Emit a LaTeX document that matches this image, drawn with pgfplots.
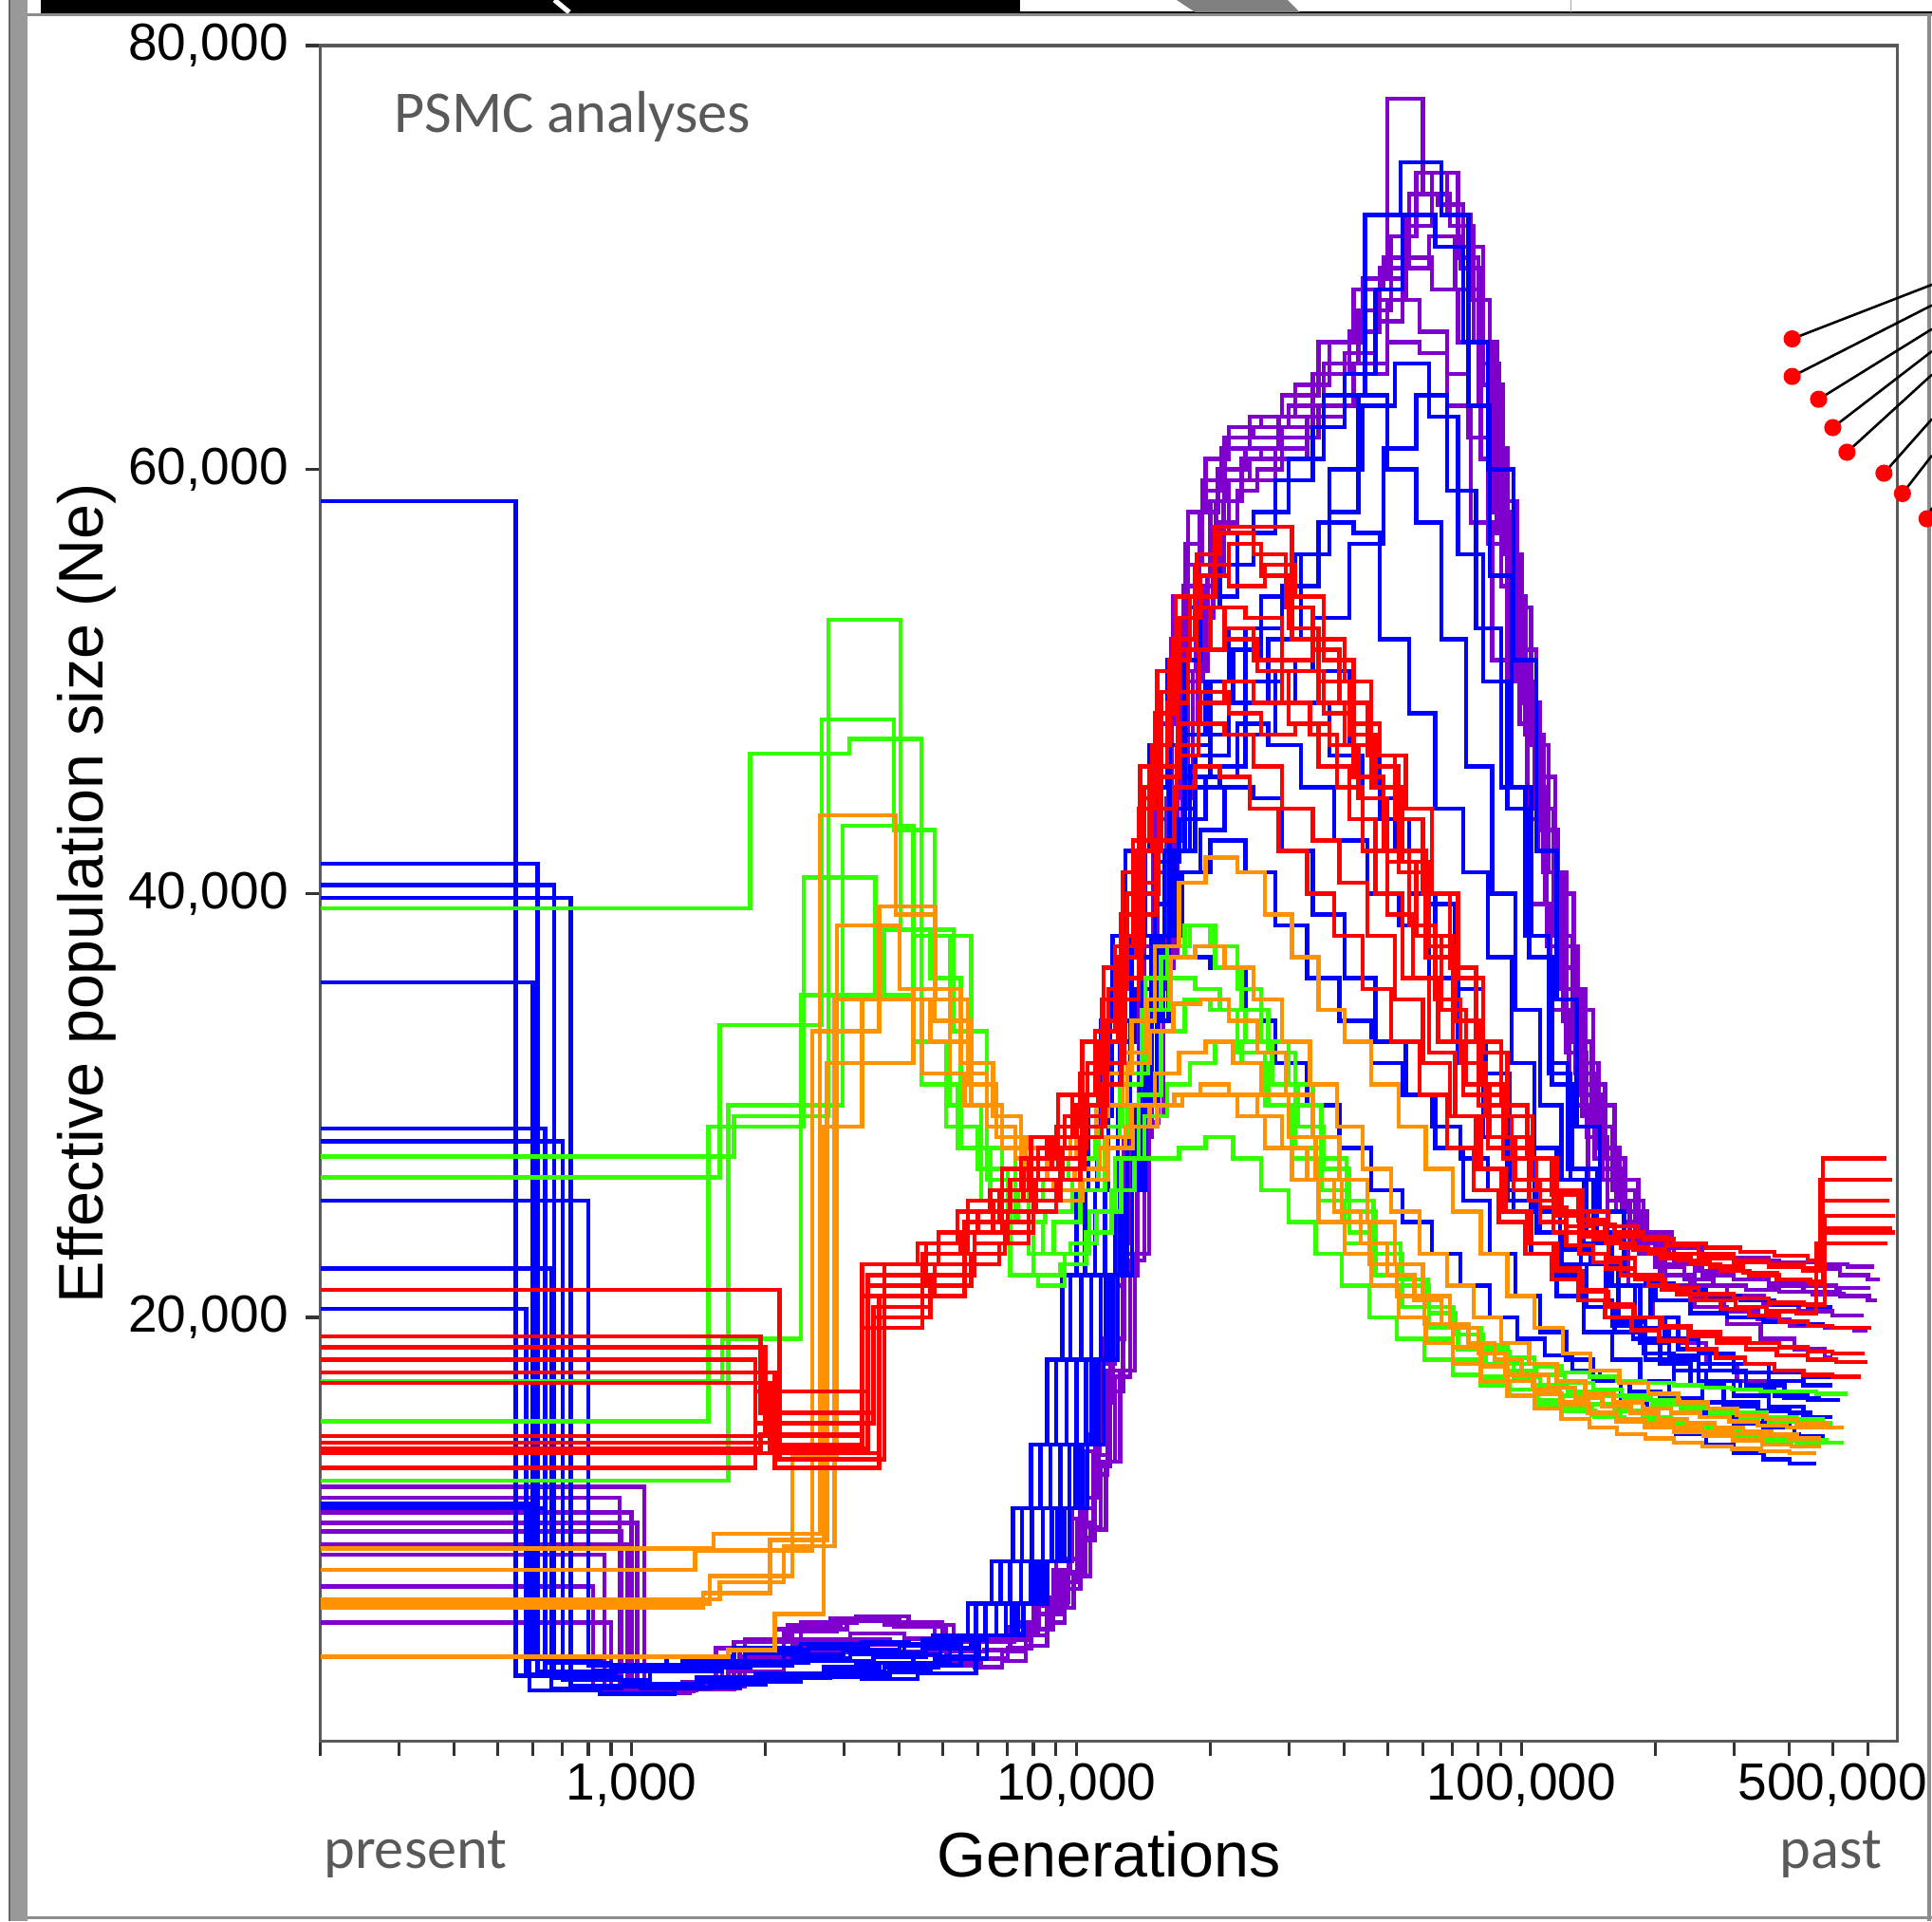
\documentclass[border=0pt]{standalone}
\usepackage{pgfplots}
\pgfplotsset{compat=1.18}
\usepackage{fontspec}
\setmainfont{Liberation Sans}
\newfontfamily\calib{Carlito}
\definecolor{cblue}{RGB}{0,0,255}
\definecolor{cpurple}{RGB}{127,0,204}
\definecolor{cgreen}{RGB}{51,255,0}
\definecolor{corange}{RGB}{255,146,0}
\definecolor{cred}{RGB}{255,0,0}
\definecolor{textgray}{RGB}{89,89,89}
\begin{document}
\begin{tikzpicture}
\useasboundingbox (0,0) rectangle (392pt,389.75pt);
\begin{axis}[
  at={(65pt,36.5pt)}, anchor=south west, scale only axis, width=320pt, height=344pt,
  xmode=log, xmin=200, xmax=700000, ymin=0, ymax=80000,
  clip=false,
  axis line style={draw=black!65, line width=0.6pt},
  tick align=outside, xtick pos=left, ytick pos=left,
  xtick={1000,10000,100000,500000},
  xticklabels={{1,000},{10,000},{100,000},{500,000}},
  minor xtick={200,300,400,500,600,700,800,900,2000,3000,4000,5000,6000,7000,8000,9000,20000,30000,40000,50000,60000,70000,80000,90000,200000,300000,400000,600000},
  major tick length=3pt, minor tick length=3pt,
  every tick/.append style={black!80, line width=0.6pt},
  every minor tick/.append style={black!80, line width=0.6pt},
  ytick={20000,40000,60000,80000},
  yticklabels={{20,000},{40,000},{60,000},{80,000}},
  scaled ticks=false,
  ticklabel style={font=\fontsize{10.6}{12}\selectfont},
  xticklabel style={yshift=2pt},
  xlabel={Generations}, ylabel={Effective population size (Ne)},
  label style={font=\fontsize{12.8}{15}\selectfont},
  xlabel style={at={(axis description cs:0.5,-0.0799)}, anchor=base},
  ylabel style={at={(axis description cs:-0.148,0.5)}, anchor=center},
  every axis plot/.append style={const plot, no marks, line width=0.85pt},
]
% ---------------- purple ----------------
\addplot[cpurple] coordinates {(200,12000)(1070,2400)(1400,2600)(1800,4800)(2400,5600)(3200,5900)(4200,5500)(5300,4800)(6300,5000)(7200,5600)(8100,6800)(9000,8500)(9800,11000)(10600,14500)(11400,19000)(12300,25000)(13200,32000)(14200,40000)(15300,48000)(16500,54000)(17800,58000)(19500,60500)(22000,62000)(26000,62500)(31000,64000)(37000,66000)(44000,69000)(50000,77500)(60000,73000)(69000,71500)(78000,66000)(86000,58000)(94000,51000)(103000,45000)(113000,39500)(124000,34000)(137000,29500)(152000,26500)(170000,24500)(192000,23500)(220000,23000)(260000,22800)(310000,22700)(380000,22600)(460000,22500)(540000,22400)(620000,22400)};
\addplot[cpurple] coordinates {(200,10800)(1000,2300)(1350,2450)(1700,3600)(2300,4300)(3000,4550)(4000,4250)(5100,3700)(6100,3900)(7000,4400)(7900,5300)(8800,6600)(9600,8600)(10400,11500)(11200,16000)(12100,22000)(13000,29000)(14000,37000)(15100,45000)(16300,52000)(17600,56500)(19200,59500)(21500,61500)(25000,62000)(30000,63000)(36000,65000)(43000,67500)(51000,71000)(58000,74000)(68000,72000)(77000,68000)(85000,61000)(93000,54000)(102000,47500)(112000,41000)(123000,35500)(136000,30500)(151000,27000)(168000,25000)(190000,24000)(218000,23300)(255000,23000)(300000,22800)(360000,22600)(430000,22300)(520000,22000)(600000,21800)(640000,21800)};
\addplot[cpurple] coordinates {(200,9900)(950,2300)(1300,2500)(1650,4300)(2200,5200)(2900,5800)(3900,5600)(5000,4700)(6350,4800)(7300,5400)(8250,6400)(9200,8000)(10050,10300)(10900,13500)(11750,17500)(12700,23000)(13650,29500)(14750,37000)(15900,44500)(17150,50500)(18550,55000)(20000,58500)(21500,61500)(24500,62500)(29000,63500)(35000,66000)(42000,68500)(49000,70000)(56000,73000)(65000,72500)(74000,70500)(82000,64000)(91000,56000)(100000,49000)(110000,43000)(121000,37500)(134000,32000)(149000,28000)(166000,25500)(188000,24000)(215000,23000)(250000,22200)(300000,21800)(360000,21500)(430000,21200)(520000,21000)(600000,20800)(630000,20800)};
\addplot[cpurple] coordinates {(200,8800)(870,2400)(1200,2500)(1600,3700)(2150,4400)(2850,4800)(3800,4550)(4900,4000)(5900,3900)(6800,4250)(7700,5000)(8600,6200)(9400,8000)(10200,11000)(11000,15500)(11900,21500)(12800,28500)(13800,36000)(14900,43500)(16100,49500)(17400,54500)(18900,58000)(20800,60000)(24000,61000)(28500,62000)(34000,64500)(41000,66500)(48000,69000)(55000,72000)(64000,71000)(73000,69500)(81000,65000)(89000,58500)(98000,51500)(108000,45500)(119000,40000)(131000,34500)(145000,30000)(162000,26500)(183000,24000)(210000,22500)(245000,21500)(290000,21000)(350000,20600)(420000,20300)(500000,20100)(580000,20000)};
\addplot[cpurple] coordinates {(200,7300)(820,2500)(1150,2700)(1550,4400)(2100,5300)(2800,5800)(3700,5500)(4800,4800)(6250,4700)(7250,5100)(8200,6000)(9200,7500)(10050,9600)(10900,12600)(11750,16500)(12750,22000)(13700,28500)(14800,35500)(16000,42500)(17300,48000)(18700,53000)(20300,57000)(22000,59500)(24500,60500)(28000,61000)(33000,62500)(40000,64500)(47000,67000)(54000,69500)(62000,71000)(71000,68500)(80000,63000)(88000,57000)(97000,50000)(107000,44000)(118000,38000)(130000,33000)(144000,29000)(160000,26000)(180000,23500)(205000,22000)(240000,21000)(285000,20300)(340000,19900)(400000,19600)(480000,19500)(560000,19400)(600000,19400)};
\addplot[cpurple] coordinates {(200,5600)(900,2300)(1250,2450)(1650,3300)(2200,3900)(2900,4200)(3800,4050)(4900,3600)(5900,3500)(6800,3800)(7700,4500)(8600,5600)(9400,7200)(10200,9500)(11000,13000)(11900,19000)(12800,26000)(13800,34000)(14900,41000)(16100,47000)(17400,52000)(18900,56000)(20600,58500)(23500,59500)(28000,60500)(33000,62500)(40000,65500)(47000,68000)(55000,70000)(63000,68500)(72000,66000)(81000,60500)(90000,54500)(99000,48000)(109000,42000)(120000,36500)(132000,31500)(146000,27500)(163000,25000)(184000,23000)(210000,21500)(245000,20500)(290000,19700)(345000,19000)(410000,18500)(480000,18100)(500000,18100)};
\addplot[cpurple] coordinates {(200,11500)(940,2600)(1300,2800)(1700,4700)(2250,5500)(2950,5800)(3900,5400)(5000,4900)(6600,4800)(7600,5300)(8600,6300)(9550,7900)(10450,10100)(11350,13200)(12200,17200)(13200,22700)(14200,29200)(15300,36500)(16500,44000)(17800,50000)(19250,54500)(20900,57500)(23000,59000)(25500,60000)(29000,61500)(35000,63000)(42000,65000)(50000,68000)(59000,66500)(68000,63000)(77000,57500)(86000,51000)(95000,45000)(105000,39500)(116000,34500)(128000,30000)(141000,26500)(156000,23500)(174000,21500)(197000,20000)(225000,18800)(260000,17800)(305000,17000)(360000,16500)(420000,16200)(455000,16200)};
\addplot[cpurple] coordinates {(200,9300)(980,2400)(1350,2500)(1750,4000)(2350,4800)(3100,5100)(4100,4850)(5200,4250)(6200,4300)(7100,5400)(8000,6500)(8900,8100)(9700,10500)(10500,13700)(11300,17800)(12200,23500)(13100,30000)(14100,37500)(15200,45000)(16400,51000)(17700,55500)(19200,59000)(21200,61000)(24500,61500)(29000,62000)(35000,63000)(42000,64500)(50000,66000)(59000,65500)(68000,64500)(76000,61500)(84000,56500)(93000,50000)(103000,43500)(114000,37500)(126000,32500)(140000,28500)(156000,25500)(175000,23500)(200000,22400)(232000,21800)(270000,21500)(320000,21300)(380000,21200)(450000,21100)(530000,21000)(610000,21000)};
\addplot[cpurple] coordinates {(200,10300)(1030,2350)(1380,2550)(1750,4400)(2300,5300)(3050,5700)(4000,5400)(5100,4700)(6850,4800)(7850,5300)(8850,6300)(9850,7800)(10750,10000)(11650,13200)(12550,17500)(13550,23000)(14550,29500)(15700,37000)(16900,44500)(18250,50500)(19700,55000)(21400,58500)(23500,60500)(26000,61000)(28500,62500)(34000,64500)(41000,66500)(48000,69500)(56000,71500)(63000,74000)(72000,70000)(80000,66000)(88000,60000)(96000,53500)(105000,47000)(115000,41000)(126000,35500)(139000,31000)(154000,27500)(171000,25000)(192000,23500)(220000,22500)(255000,22000)(300000,21800)(360000,21600)(430000,21500)(510000,21400)(600000,21300)};
% ---------------- blue ----------------
\addplot[cblue] coordinates {(200,58500)(550,3100)(800,2900)(1100,3300)(1600,3600)(2300,3800)(3200,3700)(4300,4100)(4950,5000)(5950,6500)(6750,8500)(7550,11000)(8300,14000)(9000,18000)(9700,22000)(10450,26000)(11150,30000)(11900,34000)(12600,38000)(13500,42000)(14600,47000)(16000,51000)(18000,53500)(21000,55500)(25000,58000)(30000,60500)(36000,63500)(44500,72000)(53500,74500)(66000,72000)(76000,63000)(85000,55000)(95000,45000)(105000,38000)(115000,32000)(127000,27000)(140000,24000)(160000,21500)(185000,19500)(215000,18000)(250000,17000)(300000,16300)(360000,15800)(430000,15300)(500000,15300)};
\addplot[cblue] coordinates {(200,41400)(615,3300)(900,3500)(1300,3800)(1800,4300)(2500,4400)(3400,4200)(4500,4600)(5500,5000)(6600,6500)(7500,8500)(8400,11000)(9200,14000)(10000,18000)(10800,22000)(11600,26000)(12400,30000)(13200,34000)(14000,38000)(15000,42000)(16200,47000)(17500,51000)(19000,54000)(23000,57000)(28000,59500)(34000,62000)(40000,64500)(47000,68500)(54000,72000)(64000,70500)(74000,66000)(84000,60000)(96000,51000)(108000,42000)(120000,35000)(133000,29000)(150000,25000)(170000,22000)(195000,20000)(225000,18500)(265000,17500)(320000,16800)(390000,16200)(470000,16200)};
\addplot[cblue] coordinates {(200,40400)(670,3000)(950,2700)(1400,3000)(1900,3200)(2700,3500)(3600,3700)(4800,4000)(6050,5000)(7250,6500)(8250,8500)(9250,11000)(10100,14000)(11000,18000)(11900,22000)(12750,26000)(13650,30000)(14500,34000)(15400,38000)(16500,42000)(18000,46000)(20000,49000)(22500,51500)(26000,54000)(31000,56000)(37000,60000)(44000,63000)(52000,65000)(62000,62500)(72000,56000)(82000,50000)(93000,44000)(104000,37000)(117000,31000)(130000,27000)(148000,24000)(170000,22000)(200000,20800)(240000,20200)(290000,20000)(350000,19800)(420000,19700)(480000,19700)};
\addplot[cblue] coordinates {(200,39800)(730,2600)(1050,2500)(1500,2700)(2000,3000)(2800,3100)(3800,3300)(4700,3700)(5200,5000)(6250,6500)(7100,8500)(7950,11000)(8750,14000)(9500,18000)(10250,22000)(11000,26000)(11800,30000)(12550,34000)(13300,38000)(14250,42000)(15500,44000)(18500,46500)(22000,49000)(27000,52000)(32000,56000)(37000,58000)(43000,63500)(50000,60000)(58000,57500)(66000,52000)(75000,46000)(86000,40000)(97000,34500)(110000,30000)(123000,26500)(138000,23500)(157000,21500)(180000,20000)(210000,19000)(250000,18300)(300000,17800)(360000,17400)(430000,17200)(520000,17200)};
\addplot[cblue] coordinates {(200,35800)(600,3900)(850,3600)(1200,4000)(1700,4400)(2400,4600)(3300,4700)(4200,4500)(4750,5000)(5700,6500)(6450,8500)(7200,11000)(7900,14000)(8600,18000)(9300,22000)(10000,26000)(10650,30000)(11350,34000)(12050,38000)(12900,42000)(14000,45000)(16000,47000)(20000,50000)(24000,52500)(29000,54500)(35000,57500)(42000,57000)(48000,52000)(56000,48500)(64000,44000)(74000,41000)(84000,37000)(95000,32000)(107000,28000)(120000,25000)(136000,22500)(155000,20500)(178000,19000)(205000,17800)(240000,16800)(285000,16000)(340000,15300)(400000,14800)(460000,14800)};
\addplot[cblue] coordinates {(200,28900)(640,3100)(920,3300)(1350,3500)(1850,3700)(2500,3800)(3500,4000)(4600,4400)(5800,5000)(6950,6500)(7900,8500)(8800,11000)(9650,14000)(10500,18000)(11350,22000)(12200,26000)(13000,30000)(13850,34000)(14700,38000)(15750,42000)(17500,45500)(20000,47500)(24000,50000)(29000,52000)(35000,50500)(41000,47000)(48000,43500)(56000,40000)(64000,36000)(72000,32000)(82000,28500)(93000,25500)(105000,23000)(120000,21000)(138000,19300)(160000,18000)(185000,17000)(215000,16200)(255000,15500)(300000,15000)(360000,14500)(420000,14200)(470000,14200)};
\addplot[cblue] coordinates {(200,28300)(700,2900)(1000,2700)(1450,3000)(2000,3200)(2700,3300)(3700,3500)(4900,3900)(6300,5000)(7600,6500)(8600,8500)(9650,11000)(10600,14000)(11500,18000)(12400,22000)(13350,26000)(14250,30000)(15200,34000)(16100,38000)(17250,41000)(19000,43000)(21500,45000)(25000,44500)(29000,42000)(34000,39000)(40000,36000)(47000,33000)(55000,30500)(64000,28000)(74000,25500)(85000,23000)(97000,21000)(110000,19300)(126000,18000)(145000,17000)(167000,16000)(192000,15200)(222000,14500)(260000,14000)(300000,13600)(350000,13300)(400000,13100)(460000,13100)};
\addplot[cblue] coordinates {(200,25500)(800,3600)(1150,3400)(1600,3700)(2200,4100)(3000,4300)(4000,4500)(4950,5000)(5950,6500)(6750,8500)(7550,11000)(8300,14000)(9000,18000)(9700,22000)(10450,26000)(11150,29500)(12000,33000)(13500,35500)(15500,37000)(20000,36500)(24000,34000)(28000,32000)(33000,30000)(39000,28000)(46000,26000)(54000,24500)(63000,23000)(73000,21500)(85000,20000)(98000,19000)(113000,18200)(130000,17500)(150000,17000)(175000,16500)(205000,16200)(240000,16000)(285000,15800)(340000,15600)(400000,15500)(450000,15500)};
\addplot[cblue] coordinates {(200,22300)(660,2500)(950,2650)(1400,2800)(1900,3000)(2600,3150)(3500,3250)(4600,3600)(5500,5000)(6600,6500)(7500,8500)(8400,11000)(9200,14000)(10000,18000)(10800,22000)(11600,26000)(12400,30000)(13200,34000)(14000,38000)(15000,41500)(17000,43500)(19500,45500)(23000,48000)(27000,47000)(32000,45000)(38000,42500)(45000,40000)(53000,38500)(62000,36000)(72000,33000)(83000,29500)(95000,26500)(108000,24000)(123000,22000)(140000,20500)(162000,19300)(188000,18300)(220000,17500)(260000,17000)(310000,16600)(370000,16300)(440000,16100)(520000,16100)};
\addplot[cblue] coordinates {(200,20400)(580,3150)(820,3350)(1200,3600)(1650,3800)(2300,3900)(3100,4100)(4100,4500)(5200,5000)(6250,6500)(7100,8500)(7950,11000)(8750,14000)(9500,18000)(10250,22000)(11000,26000)(11800,30000)(12550,34000)(13300,37000)(15000,39500)(17000,41000)(20000,42500)(24000,41000)(28000,38500)(33000,36000)(39000,34000)(46000,32000)(54000,30500)(63000,29000)(73000,27500)(84000,26000)(96000,25000)(110000,24000)(125000,23200)(143000,22500)(165000,22000)(190000,21600)(220000,21300)(260000,21000)(310000,20800)(370000,20600)(440000,20500)(500000,20500)};
\addplot[cblue] coordinates {(200,11200)(590,2400)(850,2250)(1250,2550)(1750,2800)(2400,3050)(3300,2950)(4400,3200)(5950,5000)(7150,6500)(8100,8500)(9050,11000)(9950,14000)(10800,18000)(11650,22000)(12550,26000)(13400,30000)(14250,34000)(15100,38000)(16200,42000)(17500,47500)(19500,50000)(22000,52500)(26000,51000)(31000,49000)(37000,46500)(44000,44500)(52000,42000)(61000,39500)(71000,35500)(82000,31500)(94000,28000)(107000,25000)(122000,22500)(140000,20800)(160000,19600)(185000,18800)(215000,18200)(250000,17800)(300000,17400)(360000,17000)(430000,16800)(500000,16800)};
\addplot[cblue] coordinates {(200,11000)(640,3700)(900,3450)(1300,3800)(1800,4150)(2500,4500)(3400,4600)(4500,4800)(6150,5000)(7400,6500)(8400,8500)(9400,11000)(10300,14000)(11200,18000)(12100,22000)(13000,26000)(13900,30000)(14800,34000)(15700,38000)(16800,42000)(18500,45000)(21000,46000)(24000,47500)(28000,50500)(34000,53000)(41000,56500)(49000,61000)(58000,63500)(68000,59000)(79000,52500)(90000,45000)(102000,38000)(115000,31500)(129000,26500)(145000,22500)(165000,19800)(190000,18000)(220000,16800)(255000,16000)(300000,15300)(350000,14800)(410000,14400)(480000,14400)};
% ---------------- green ----------------
\addplot[cgreen] coordinates {(200,39300)(1850,46600)(3090,47300)(4480,31000)(5400,28000)(6300,26500)(7300,25500)(8400,26500)(9600,27500)(11000,28500)(12500,31000)(14000,34500)(15500,37000)(17500,38500)(20000,37500)(23000,35500)(26000,33000)(30000,31000)(34000,28500)(39000,26500)(45000,24500)(52000,22500)(60000,21000)(69000,19500)(80000,18500)(92000,17500)(106000,16800)(122000,16300)(140000,15900)(162000,15600)(187000,15300)(217000,15000)(252000,14800)(295000,14600)(345000,14400)(400000,14200)(460000,14100)(530000,14100)};
\addplot[cgreen] coordinates {(200,27600)(1700,29500)(2770,52900)(4020,38300)(5300,33500)(6300,28000)(7300,24500)(8400,23000)(9700,23500)(11100,25000)(12600,27500)(14200,29500)(16000,31000)(18000,32000)(20500,33000)(23500,32000)(27000,30000)(31000,28000)(35500,26000)(41000,24000)(47000,22000)(54000,20500)(62000,19500)(72000,18500)(83000,17800)(96000,17200)(110000,16800)(127000,16500)(147000,16300)(170000,16100)(197000,15900)(228000,15700)(265000,15500)(310000,15300)(360000,15100)(420000,15000)(500000,15000)};
\addplot[cgreen] coordinates {(200,26600)(1580,33800)(2680,48200)(3890,43000)(4800,38000)(5800,30000)(6800,26000)(7800,23000)(8900,24500)(10200,26000)(11600,28500)(13000,31500)(14500,34500)(16200,36000)(18500,35500)(21000,34500)(24000,33000)(27500,31000)(31500,29000)(36000,27000)(41000,25000)(47000,23000)(54000,21500)(62000,20200)(71000,19200)(82000,18400)(94000,17800)(108000,17300)(125000,16900)(145000,16600)(168000,16300)(195000,16100)(226000,15900)(262000,15700)(305000,15500)(355000,15300)(415000,15200)(480000,15200)};
\addplot[cgreen] coordinates {(200,15100)(1490,29000)(2440,40750)(3530,35200)(4300,38000)(5200,30000)(6100,25500)(7100,22000)(8200,21500)(9400,23000)(10700,25000)(12200,27500)(13800,30500)(15500,33500)(17500,35000)(20000,34500)(23000,32500)(26500,30000)(30500,27500)(35000,25500)(40000,23500)(46000,21500)(53000,20000)(61000,19000)(70000,18000)(81000,17200)(93000,16600)(107000,16100)(124000,15700)(144000,15400)(167000,15100)(194000,14900)(225000,14700)(262000,14500)(305000,14300)(355000,14200)(415000,14100)(480000,14100)};
\addplot[cgreen] coordinates {(200,12300)(1650,30000)(2980,43200)(4300,33000)(5100,29000)(6000,27000)(7000,24000)(8000,22000)(9200,22500)(10500,24000)(12000,26000)(13500,27500)(15000,27500)(17000,28000)(19500,28500)(22500,27500)(26000,26000)(30000,24500)(34500,23000)(39500,21500)(45500,20000)(52500,19000)(60500,18000)(70000,17300)(81000,16800)(94000,16300)(109000,15900)(126000,15600)(146000,15300)(170000,15100)(198000,14900)(230000,14700)(268000,14600)(312000,14400)(365000,14300)(425000,14200)(490000,14200)};
\addplot[cgreen] coordinates {(200,17000)(1600,19000)(2400,35200)(3690,38300)(4700,36000)(5500,28000)(6400,26000)(7400,24500)(8500,25000)(9800,26500)(11200,29000)(12700,32000)(14300,36000)(16000,37500)(18000,38500)(20500,36500)(23500,34500)(27000,32500)(31000,30000)(35500,27500)(40500,25500)(46500,23500)(53500,21800)(61500,20500)(70500,19500)(81000,18700)(93000,18100)(107000,17700)(123000,17400)(142000,17200)(164000,17000)(190000,16900)(220000,16800)(255000,16700)(297000,16600)(345000,16500)(400000,16500)(460000,16400)(540000,16400)};
% ---------------- orange ----------------
\addplot[corange] coordinates {(200,9100)(1530,9800)(2650,43700)(3930,39000)(4800,34000)(5800,30000)(6800,28500)(7800,28000)(9000,28500)(10300,29500)(11800,31500)(13300,34000)(15000,37500)(17000,40500)(19500,41700)(23000,41000)(26500,39000)(30500,37000)(35000,34500)(40000,33000)(46000,31000)(53000,29000)(61000,27000)(70000,25000)(81000,23000)(93000,21000)(107000,19500)(124000,18300)(143000,17500)(166000,16900)(193000,16400)(225000,16000)(262000,15700)(305000,15400)(355000,15200)(415000,15000)(490000,15000)};
\addplot[corange] coordinates {(200,8100)(1390,9000)(2550,33500)(3600,39400)(4830,35000)(5700,31000)(6600,28500)(7600,27000)(8700,27500)(10000,28500)(11400,30000)(13000,32000)(14600,33500)(16500,34800)(19000,35000)(22000,34000)(25500,32500)(29500,30500)(34000,28500)(39000,26500)(45000,24500)(52000,22500)(60000,21000)(69000,19500)(80000,18300)(92000,17300)(106000,16600)(122000,16000)(141000,15500)(163000,15100)(189000,14800)(220000,14600)(256000,14400)(298000,14200)(348000,14000)(405000,13900)(470000,13900)};
\addplot[corange] coordinates {(200,6700)(1580,7500)(2200,9200)(2860,35000)(4500,31500)(5600,30000)(6600,28500)(7700,26500)(8900,26000)(10200,27000)(11700,28500)(13300,30000)(15000,31500)(17000,32500)(19500,33000)(22500,32000)(26000,30500)(30000,28500)(34500,26500)(39500,24500)(45500,22500)(52500,21000)(60500,19700)(70000,18600)(81000,17700)(93000,17000)(107000,16400)(123000,15900)(142000,15500)(164000,15200)(190000,15000)(220000,14800)(255000,14600)(297000,14500)(345000,14400)(400000,14300)(470000,14300)};
\addplot[corange] coordinates {(200,6300)(1450,7000)(2050,9500)(2750,32000)(4300,35500)(5500,32000)(6500,29500)(7500,27500)(8600,26500)(9900,27000)(11300,28000)(12900,29000)(14600,30000)(16600,30500)(19000,31000)(22000,30500)(25500,29500)(29000,28000)(33000,26500)(38000,25000)(43500,23500)(50000,22000)(57500,20800)(66000,19700)(76000,18800)(87000,18000)(100000,17300)(115000,16700)(132000,16200)(152000,15800)(176000,15500)(203000,15200)(235000,15000)(272000,14800)(315000,14600)(365000,14500)(420000,14500)};
\addplot[corange] coordinates {(200,4000)(1650,4300)(2100,6000)(2700,29000)(3300,35000)(4700,33000)(5800,30000)(6800,28000)(7900,26000)(9000,25500)(10300,26500)(11800,28000)(13400,29000)(15200,30000)(17300,30500)(20000,30500)(23000,29500)(26500,28000)(30500,26500)(35000,24500)(40000,23000)(46000,21500)(53000,20000)(61000,18800)(70000,17800)(81000,17000)(93000,16300)(107000,15700)(123000,15200)(142000,14800)(164000,14500)(190000,14300)(220000,14100)(255000,13900)(297000,13800)(345000,13700)(400000,13600)(460000,13600)};
\addplot[corange] coordinates {(200,6500)(1500,7800)(2300,13500)(2900,38500)(4000,35500)(5200,31500)(6300,29000)(7300,27500)(8400,27500)(9700,28500)(11100,30000)(12700,32500)(14400,35000)(16300,37000)(18500,37500)(21500,36500)(25000,35000)(29000,33000)(33500,31000)(38500,29000)(44000,27000)(51000,25000)(59000,23000)(68000,21500)(78000,20000)(90000,18800)(104000,17800)(120000,17000)(139000,16400)(161000,16000)(187000,15700)(217000,15500)(252000,15300)(293000,15100)(340000,14900)(395000,14800)(460000,14800)(530000,14800)};
% ---------------- red ----------------
\addplot[cred] coordinates {(200,21300)(2150,14000)(3300,21000)(4500,23000)(5500,24000)(6500,25500)(7600,27000)(8800,28500)(10000,30000)(11200,33000)(12400,37000)(13600,42000)(14800,47000)(16200,51000)(18000,54000)(20500,57300)(26000,57300)(30500,52000)(35000,49000)(40000,47000)(46000,45000)(53000,42000)(61000,38000)(70000,34000)(80000,30500)(91000,28000)(104000,26000)(118000,24800)(135000,24000)(155000,23500)(180000,23200)(210000,23000)(250000,22800)(300000,22600)(360000,22400)(430000,22300)(470000,26500)(680000,26500)};
\addplot[cred] coordinates {(200,19100)(1950,15500)(3400,21500)(4600,22500)(5600,24500)(6700,26000)(7800,27500)(9000,29000)(10200,31500)(11400,35000)(12600,39000)(13800,44000)(15000,48500)(16500,52000)(18500,55500)(22000,54500)(26500,55500)(31000,54000)(36000,51000)(42000,48000)(48000,46500)(55000,44000)(63000,40000)(72000,36000)(82000,32500)(93000,29500)(106000,27500)(120000,26000)(137000,25000)(157000,24300)(182000,23800)(212000,23400)(250000,23000)(300000,22700)(360000,22500)(430000,22200)(475000,27500)(660000,27500)};
\addplot[cred] coordinates {(200,18600)(2000,14400)(3300,22500)(4400,23500)(5400,25000)(6400,26000)(7500,27500)(8600,28500)(9800,30500)(11000,33500)(12200,37500)(13400,42500)(14600,46000)(16000,49000)(17800,51500)(20000,53500)(24000,53000)(29000,51000)(34000,52000)(40000,50000)(46000,46000)(53000,41000)(61000,37000)(70000,33000)(80000,30000)(91000,27500)(104000,25500)(118000,24000)(135000,23000)(155000,22300)(180000,21800)(210000,21400)(250000,21100)(300000,20900)(360000,20700)(430000,20600)(480000,24800)(690000,24800)};
\addplot[cred] coordinates {(200,18000)(1900,15000)(3500,20500)(4700,22000)(5800,23000)(6900,24500)(8000,26000)(9200,27500)(10400,29500)(11600,32000)(12800,36000)(14000,40000)(15300,44000)(16800,47000)(18800,49000)(21500,50000)(25000,49000)(30000,50500)(36000,48500)(42000,45500)(49000,42000)(56000,38500)(64000,35000)(73000,32000)(83000,29500)(95000,27500)(108000,26000)(123000,25000)(141000,24400)(162000,24000)(188000,23700)(220000,23500)(260000,23300)(310000,23100)(370000,22900)(440000,22700)(470000,25500)(670000,25500)};
\addplot[cred] coordinates {(200,17400)(2100,13600)(3600,21000)(4800,22500)(5900,24000)(7000,25000)(8100,26500)(9300,28000)(10500,30500)(11700,34000)(12900,38000)(14100,42000)(15500,45500)(17000,48000)(19000,49500)(22000,48500)(26000,47500)(31000,48000)(37000,47000)(43000,44500)(50000,41500)(58000,38000)(66000,34500)(75000,31000)(85000,28500)(97000,26500)(110000,25200)(126000,24300)(145000,23700)(167000,23300)(193000,23000)(225000,22700)(265000,22400)(315000,22100)(375000,21800)(445000,21600)(480000,24000)(690000,24000)};
\addplot[cred] coordinates {(200,16900)(2050,13800)(3400,21500)(4600,23000)(5700,24000)(6800,25500)(7900,27000)(9100,28500)(10300,30500)(11500,34000)(12700,39000)(13900,44500)(15200,48500)(16700,51500)(18600,53500)(21500,52000)(25500,50500)(30000,48000)(35000,46000)(41000,43500)(47000,40000)(54000,36000)(62000,32500)(71000,29500)(81000,27000)(92000,25000)(105000,23500)(120000,22200)(137000,21200)(157000,20500)(180000,20000)(207000,19600)(240000,19300)(280000,19000)(325000,18800)(380000,18600)(440000,18400)(500000,18300)(590000,18300)};
\addplot[cred] coordinates {(200,14400)(2000,15500)(3500,20000)(4700,21500)(5800,23000)(6900,24000)(8000,25500)(9200,27000)(10400,29000)(11600,32000)(12800,36000)(14000,40500)(15300,44000)(16800,46500)(18800,48000)(21500,47500)(25000,46000)(29000,44000)(34000,42500)(39000,40500)(45000,38000)(52000,35000)(60000,32000)(69000,29500)(79000,27000)(90000,25000)(103000,23500)(118000,22300)(135000,21300)(155000,20600)(178000,20000)(205000,19500)(237000,19100)(275000,18800)(320000,18500)(375000,18200)(440000,18000)(510000,17900)(600000,17900)};
\addplot[cred] coordinates {(200,14100)(2150,13300)(3700,22500)(4900,24000)(6000,25000)(7100,26500)(8200,28000)(9400,29500)(10600,32000)(11800,35500)(13000,40000)(14200,45000)(15500,49500)(17000,53000)(19000,55000)(22000,56500)(26000,55000)(30000,52500)(35000,50000)(41000,47500)(47000,45000)(54000,41500)(62000,37500)(71000,34000)(81000,31000)(92000,28500)(105000,26500)(120000,25000)(137000,23800)(157000,22800)(180000,22000)(207000,21300)(240000,20800)(280000,20400)(325000,20100)(380000,19800)(440000,19600)(500000,19500)(610000,19500)};
\addplot[cred] coordinates {(200,13800)(1950,14500)(3300,19500)(4500,21000)(5600,22500)(6700,23500)(7800,25000)(9000,26500)(10200,28500)(11400,31000)(12600,35000)(13800,39000)(15100,42500)(16600,45000)(18500,46000)(21000,45500)(24500,44000)(28500,42000)(33000,40000)(38000,38000)(44000,35500)(51000,33000)(59000,30500)(68000,28000)(78000,26000)(89000,24500)(102000,23000)(117000,21800)(134000,20800)(154000,20000)(177000,19400)(204000,18900)(236000,18500)(274000,18100)(318000,17800)(370000,17500)(430000,17300)(500000,17200)(580000,17200)};
\addplot[cred] coordinates {(200,13600)(2100,12900)(3600,21000)(4800,22000)(5900,23500)(7000,25000)(8100,26500)(9300,28000)(10500,30000)(11700,33000)(12900,37500)(14100,42000)(15400,46000)(16900,49500)(18900,51500)(21500,52500)(25000,51000)(29000,49000)(33500,47500)(38500,45000)(44000,42000)(50000,39000)(57000,36000)(65000,33000)(74000,30500)(84000,28000)(96000,26000)(110000,24500)(126000,23400)(145000,22600)(167000,22000)(193000,21500)(224000,21100)(260000,20800)(303000,20500)(355000,20300)(415000,20200)(460000,23500)(665000,23500)};
\addplot[cred] coordinates {(200,12900)(1900,16500)(3400,22000)(4600,23500)(5700,25500)(6800,27000)(7900,28500)(9100,30500)(10300,33000)(11500,36500)(12700,41000)(13900,46000)(15200,50500)(16700,54000)(18600,56000)(21000,57000)(25000,56000)(29500,53500)(34000,51500)(39000,49000)(45000,46500)(52000,43500)(60000,40000)(69000,36500)(79000,33000)(90000,30000)(103000,27500)(117000,25800)(134000,24600)(154000,23800)(178000,23200)(206000,22800)(240000,22500)(280000,22200)(325000,22000)(380000,21800)(440000,21700)(475000,24200)(680000,24200)};
% ---------------- text ----------------
\node[anchor=base west, inner sep=0pt, text=textgray, font=\calib\fontsize{12}{14}\selectfont] at (axis description cs:0.0461,0.9487) {PSMC analyses};
\node[anchor=base west, inner sep=0pt, text=textgray, font=\calib\fontsize{12}{14}\selectfont] at (axis description cs:0.0016,-0.0749) {present};
\node[anchor=base east, inner sep=0pt, text=textgray, font=\calib\fontsize{12}{14}\selectfont] at (axis description cs:0.9906,-0.0749) {past};
\end{axis}
% ---------------- frame decorations ----------------
\begin{scope}[x=0.25pt,y=-0.25pt,shift={(0pt,389.75pt)}]
  \fill[black!40] (8,0) rectangle (22,1559);
  \draw[black!60, line width=0.4pt] (8,0) -- (8,1559);
  \fill[black] (33,0) rectangle (828,11);
  \draw[white, line width=1pt] (450,0) -- (462,10);
  \draw[black, line width=0.5pt] (828,10) -- (1568,10);
  \fill[black!50] (955,0) -- (1045,0) -- (1055,10) -- (970,10) -- cycle;
  \draw[black!35, line width=0.3pt] (1275,0) -- (1275,10);
  \draw[black!45, line width=0.6pt] (22,12) -- (1568,12);
  \draw[black!45, line width=0.8pt] (1566,12) -- (1566,1559);
  \draw[black!45, line width=0.6pt] (22,1556) -- (1568,1556);
  \draw[black, line width=0.5pt] (1454.5,275) -- (1568,231);
  \draw[black, line width=0.5pt] (1454.5,305.5) -- (1568,247.7);
  \draw[black, line width=0.5pt] (1476,324) -- (1568,267);
  \draw[black, line width=0.5pt] (1487.5,347) -- (1568,285);
  \draw[black, line width=0.5pt] (1499,367) -- (1568,304);
  \draw[black, line width=0.5pt] (1529,384) -- (1568,340);
  \draw[black, line width=0.5pt] (1544,400.5) -- (1568,369.6);
  \draw[black, line width=0.5pt] (1564,421) -- (1568,412);
  \foreach \p in {(1454.5,275),(1454.5,305.5),(1476,324),(1487.5,347),(1499,367),(1529,384),(1544,400.5),(1564,421)}
    \fill[cred] \p circle[radius=1.75pt];
\end{scope}
\end{tikzpicture}
\end{document}
